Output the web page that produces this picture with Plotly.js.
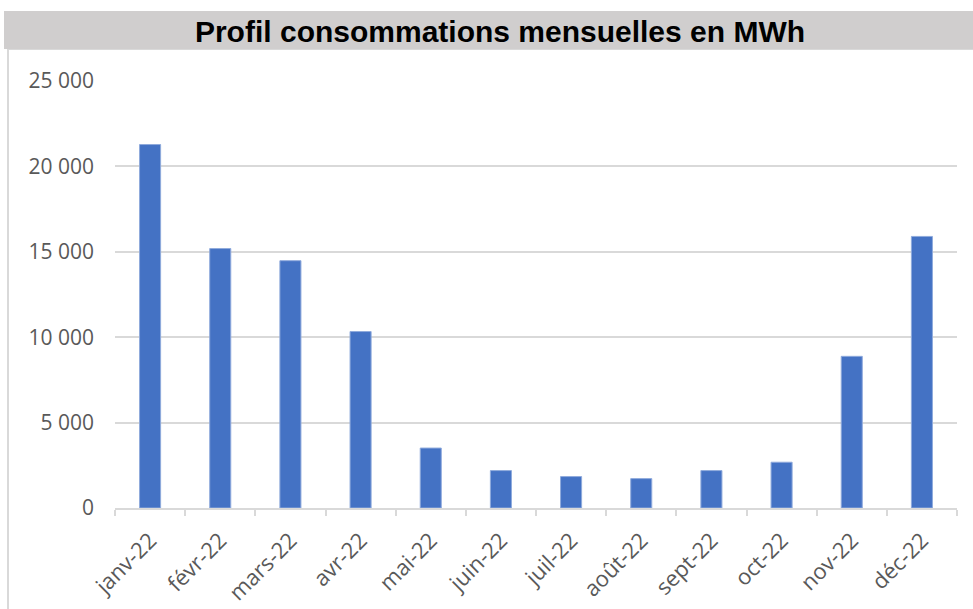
<!DOCTYPE html>
<html>
<head>
<meta charset="utf-8">
<script src="https://cdn.plot.ly/plotly-3.0.1.min.js"></script>
<style>html,body{margin:0;padding:0;background:#fff;}#chart{width:973px;height:609px;}</style>
</head>
<body>
<div id="chart"></div>
<script>
const months = ["janv-22","févr-22","mars-22","avr-22","mai-22","juin-22","juil-22","août-22","sept-22","oct-22","nov-22","déc-22"];
const consumptionMWh = [21280, 15190, 14480, 10330, 3510, 2190, 1840, 1720, 2190, 2680, 8880, 15900];
const yTicks = [0, 5000, 10000, 15000, 20000, 25000];
const chartTitle = "Profil consommations mensuelles en MWh";

const W = 973, H = 609;
const L = 115, R = 16, T = 81, B = 101;
const pw = W - L - R, ph = H - T - B;
const px = x => (x - L) / pw;
const py = y => (H - B - y) / ph;

const trace = {
  type: "bar",
  x: months,
  y: consumptionMWh,
  marker: { color: "#4472C4", line: { color: "#8FAADC", width: 1 } },
  hoverinfo: "x+y"
};

const layout = {
  width: W, height: H,
  margin: { l: L, r: R, t: T, b: B, pad: 0 },
  paper_bgcolor: "#ffffff",
  plot_bgcolor: "#ffffff",
  separators: ", ",
  bargap: 0.7,
  showlegend: false,
  font: { family: "Open Sans, Noto Sans, sans-serif", color: "#595959", size: 21 },
  title: {
    text: "<b>" + chartTitle + "</b>",
    font: { family: "Liberation Sans, Arial, sans-serif", size: 30, color: "#000000" },
    x: 500 / W, xanchor: "center", xref: "container",
    y: 1 - 31 / H, yanchor: "middle", yref: "container"
  },
  xaxis: {
    type: "category",
    tickangle: -45,
    showline: true, linecolor: "#D9D9D9", linewidth: 2,
    ticks: "outside", tickson: "boundaries", ticklen: 6, tickcolor: "#D9D9D9", tickwidth: 2,
    showgrid: false,
    ticklabelstandoff: 9,
    tickfont: { size: 22, color: "#595959" }
  },
  yaxis: {
    range: [0, 25000],
    tickvals: yTicks,
    tickformat: ",d",
    showgrid: true, gridcolor: "#D9D9D9", gridwidth: 2,
    zeroline: false, showline: false,
    ticks: "", ticklabelstandoff: 20,
    tickfont: { size: 21, color: "#595959" }
  },
  shapes: [
    { type: "rect", xref: "paper", yref: "paper", layer: "below",
      x0: px(8), x1: px(980), y0: py(615), y1: py(49),
      line: { color: "#D9D9D9", width: 2 }, fillcolor: "rgba(0,0,0,0)" },
    { type: "rect", xref: "paper", yref: "paper", layer: "below",
      x0: px(4), x1: px(980), y0: py(49), y1: py(11),
      line: { width: 0 }, fillcolor: "#D0CECE" }
  ]
};

Plotly.newPlot("chart", [trace], layout, { displayModeBar: false, staticPlot: true });
</script>
</body>
</html>
